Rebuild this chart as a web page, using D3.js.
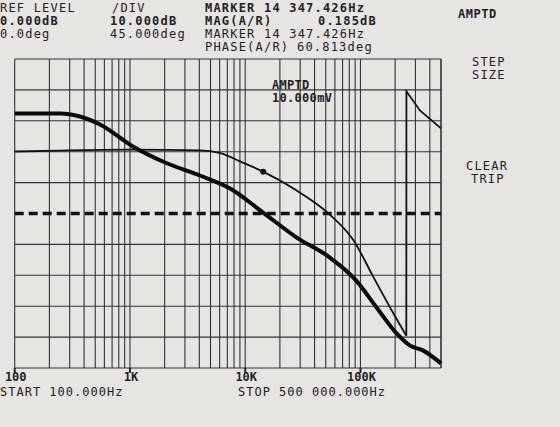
<!DOCTYPE html>
<html><head><meta charset="utf-8">
<script src="https://cdn.jsdelivr.net/npm/d3@7"></script>
<style>body{margin:0;background:#e6e5e2;}svg text{font-family:"DejaVu Sans Mono",monospace;fill:#222;}</style>
</head><body><svg id="c" width="560" height="427"></svg>
<script>
const magFreq=[100,247,369,550,1060,2020,4050,7400,14300,28000,54000,92000,138000,206000,268000,348000,500000];
const magDb=[32.4,32.4,31.4,28.8,21.7,16.5,12.3,8.1,0.3,-7.8,-14.2,-21.7,-30.4,-38.8,-42.7,-44.3,-48.5];
const phFreqA=[100,247,1000,4050,6100,9000,14300,28000,51600,87000,130000,194000,250000];
const phDegA=[90.3,91.7,93,92,88,76,61,33.5,1.5,-39,-93,-146,-178];
const phFreqB=[250000,250600,328000,500000];
const phDegB=[-178,178,150,124];
const decadeLabels=["100","1K","10K","100K"];
const decadeVals=[100,1000,10000,100000];
const marker={f:14347,deg:60.8};

const svg=d3.select("#c");
const x=d3.scaleLog().domain([100,500000]).range([14.7,441]);
const yDiv=d3.scaleLinear().domain([-5,5]).range([368,59]);
const yMag=d3.scaleLinear().domain([-50,50]).range([368,59]);
const yPh=d3.scaleLinear().domain([-225,225]).range([368,59]);

const vt=[];
for(let d=100;d<=100000;d*=10)for(let k=1;k<=9;k++){const v=d*k;if(v<=500000)vt.push(v);}
vt.push(500000);
svg.append("g").selectAll("line").data(vt).join("line")
 .attr("x1",d=>x(d)).attr("x2",d=>x(d)).attr("y1",59).attr("y2",368)
 .attr("stroke","#333").attr("stroke-width",1.1);
svg.append("g").selectAll("line").data(d3.range(-5,6).filter(d=>d!==0)).join("line")
 .attr("x1",14.7).attr("x2",441).attr("y1",d=>yDiv(d)).attr("y2",d=>yDiv(d))
 .attr("stroke","#333").attr("stroke-width",1.1);
svg.append("line").attr("x1",14.7).attr("x2",441).attr("y1",yDiv(0)).attr("y2",yDiv(0))
 .attr("stroke","#111").attr("stroke-width",3.5).attr("stroke-dasharray","9,5");
svg.append("g").selectAll("line").data(decadeVals).join("line")
 .attr("x1",d=>x(d)).attr("x2",d=>x(d)).attr("y1",368).attr("y2",373).attr("stroke","#222").attr("stroke-width",2);

const curve=d3.curveMonotoneX;
svg.append("path").datum(magFreq.map((f,i)=>[f,magDb[i]]))
 .attr("d",d3.line().x(d=>x(d[0])).y(d=>yMag(d[1])).curve(curve))
 .attr("fill","none").attr("stroke","#0a0a0a").attr("stroke-width",4);
svg.append("path").datum(phFreqA.map((f,i)=>[f,phDegA[i]]))
 .attr("d",d3.line().x(d=>x(d[0])).y(d=>yPh(d[1])).curve(curve))
 .attr("fill","none").attr("stroke","#111").attr("stroke-width",1.8);
svg.append("path").datum(phFreqB.map((f,i)=>[f,phDegB[i]]))
 .attr("d",d3.line().x(d=>x(d[0])).y(d=>yPh(d[1])))
 .attr("fill","none").attr("stroke","#111").attr("stroke-width",1.8);
svg.append("circle").attr("cx",x(marker.f)).attr("cy",yPh(marker.deg)).attr("r",3).attr("fill","#111");

const T=(t,xx,yy,o={})=>svg.append("text").attr("x",xx).attr("y",yy).text(t)
 .attr("font-size",o.s||12).attr("font-weight",o.b?"bold":"normal").attr("letter-spacing",o.ls||1.2);
svg.append("g").selectAll("text").data(decadeLabels).join("text")
 .attr("x",(d,i)=>x(decadeVals[i])-(d.length*7.2)/2+1).attr("y",381).text(d=>d)
 .attr("font-size",12).attr("font-weight","bold");
T("REF LEVEL",0,12);T("0.000dB",0,25,{b:1});T("0.0deg",0,38);
T("/DIV",112,12);T("10.000dB",110,25,{b:1});T("45.000deg",110,38);
T("MARKER 14 347.426Hz",205,12,{b:1});T("MAG(A/R)",205,25,{b:1});T("0.185dB",318,25,{b:1});
T("MARKER 14 347.426Hz",205,38);T("PHASE(A/R)",205,51);T("60.813deg",297,51);
T("AMPTD",458,18,{b:1,s:12,ls:0.5});T("STEP",472,66);T("SIZE",472,79);T("CLEAR",466,170);T("TRIP",471,183);
T("AMPTD",272,89,{b:1,s:12,ls:0.3});T("10.000mV",272,102,{b:1,s:12,ls:0.3});
T("START 100.000Hz",0,396,{s:12,ls:1});T("STOP 500 000.000Hz",238,396,{s:12,ls:1});
</script></body></html>
